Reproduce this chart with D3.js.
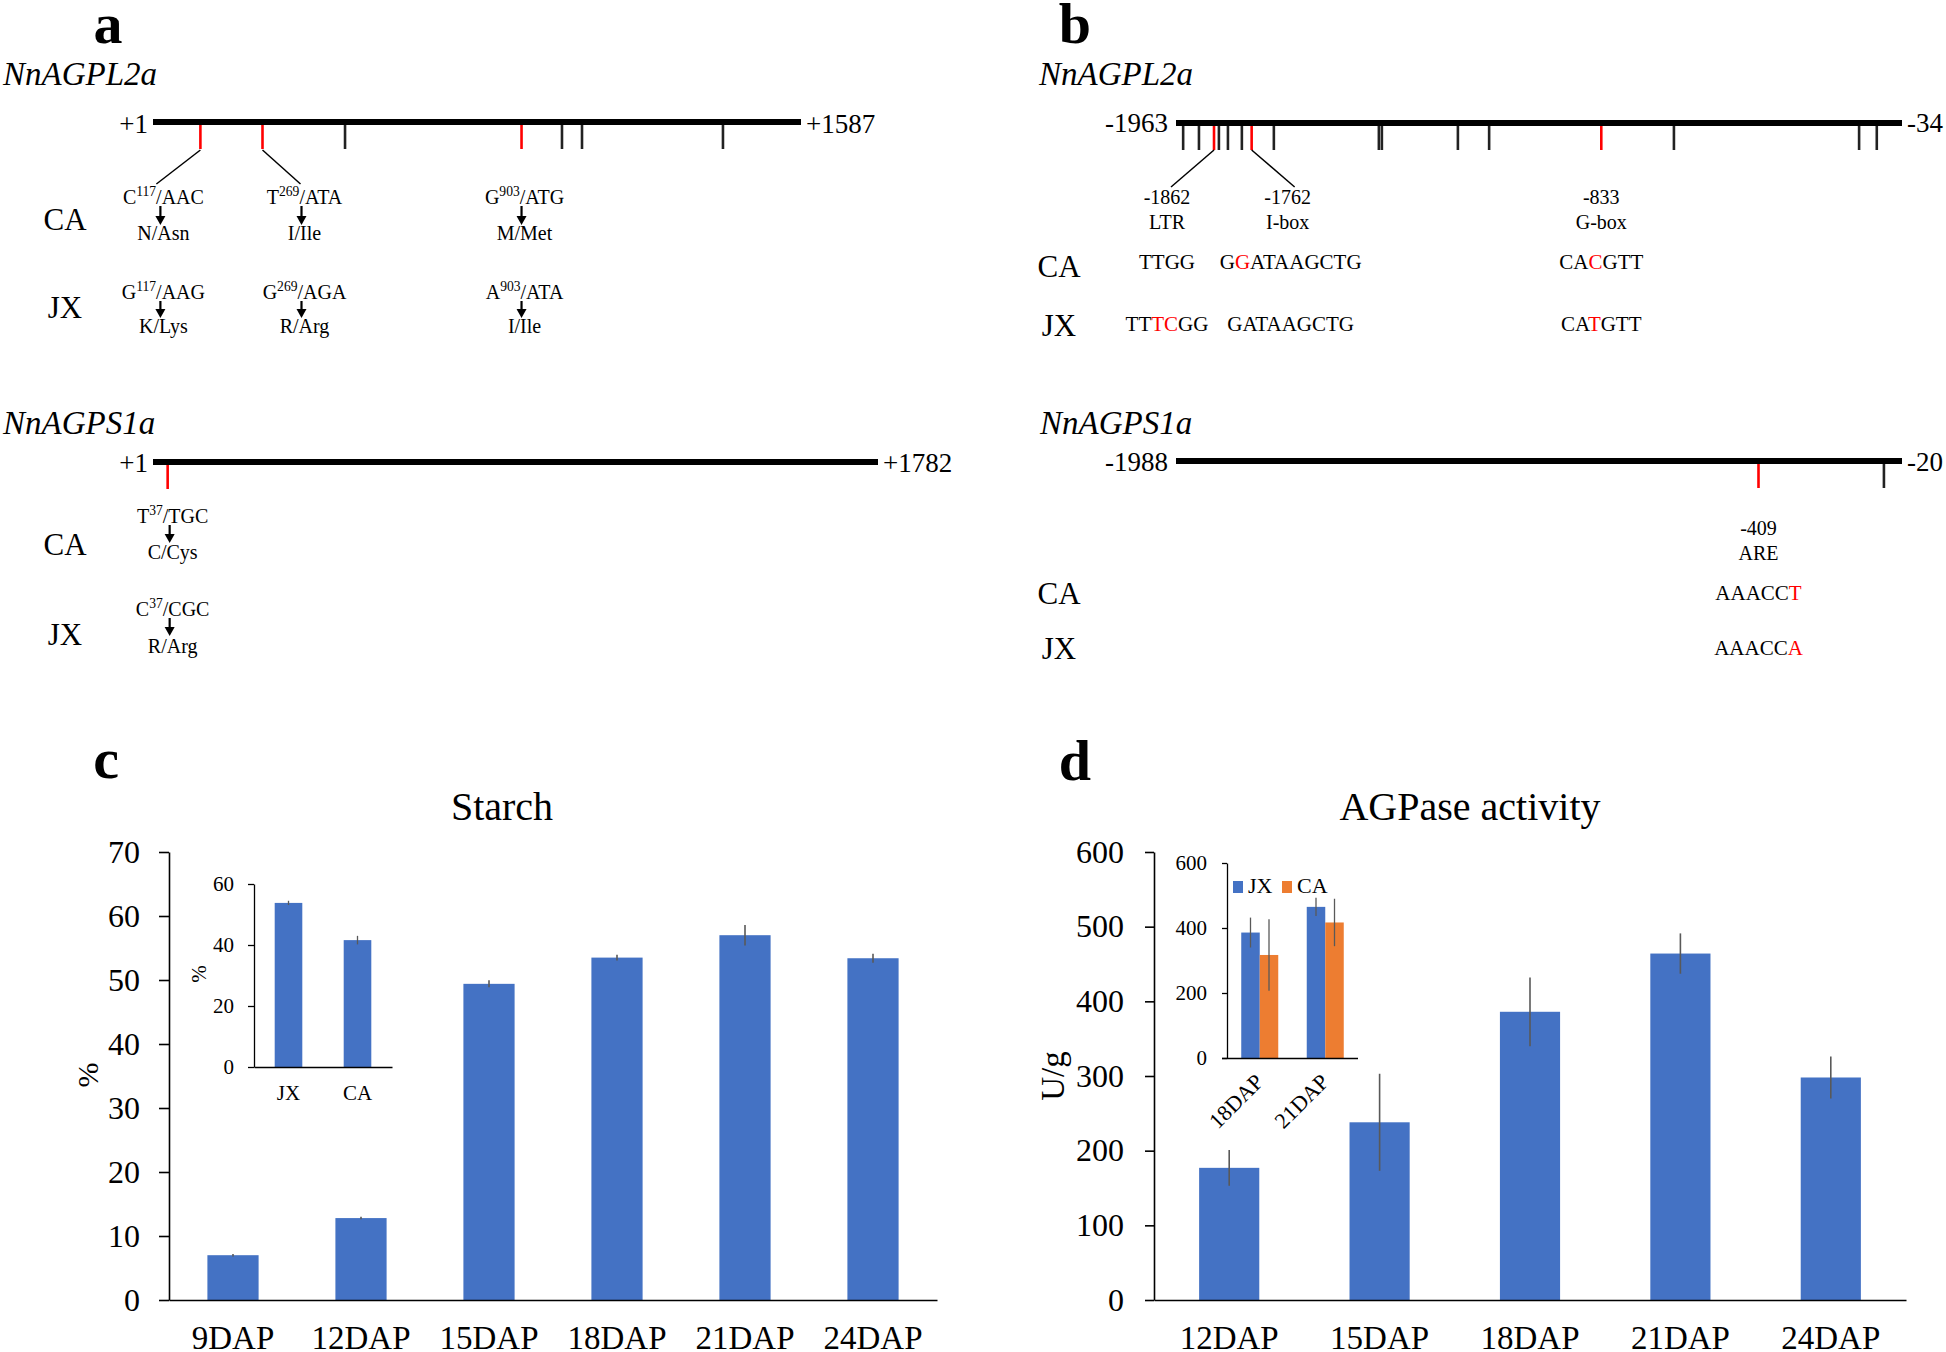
<!DOCTYPE html>
<html><head><meta charset="utf-8">
<script src="https://cdn.jsdelivr.net/npm/d3@7"></script>
<style>body{margin:0;background:#fff}</style>
</head><body>
<svg id="fig" width="1946" height="1352"></svg>
<script>
// ================= DATA =================
// panel c: starch content (%)
const starchCats = ["9DAP","12DAP","15DAP","18DAP","21DAP","24DAP"];
const starchVals = [7.0, 12.8, 49.4, 53.5, 57.0, 53.4];
const starchErr  = [0.2, 0.2, 0.55, 0.45, 1.6, 0.7];
const starchTicks = [0,10,20,30,40,50,60,70];
const starchInsetCats = ["JX","CA"];
const starchInsetVals = [53.8, 41.6];
const starchInsetErr  = [0.7, 1.4];
const starchInsetTicks = [0,20,40,60];

// panel d: AGPase activity (U/g)
const agpCats = ["12DAP","15DAP","18DAP","21DAP","24DAP"];
const agpVals = [177, 238, 386, 464, 298];
const agpErr  = [24, 65, 46, 27, 28];
const agpTicks = [0,100,200,300,400,500,600];
const agpInsetCats = ["18DAP","21DAP"];
const agpInsetSeries = ["JX","CA"];
const agpInsetJX = [386, 465];
const agpInsetCA = [317, 417];
const agpInsetErrJX = [46, 28];
const agpInsetErrCA = [110, 73];
const agpInsetTicks = [0,200,400,600];

// panel a: coding sequences
const cdsL2Range = [1, 1587];
const cdsL2Snps  = [117, 269, 903];
const cdsL2Other = [471, 1002, 1051, 1396];
const cdsL2CA    = [["C","117","/AAC"],["T","269","/ATA"],["G","903","/ATG"]];
const cdsL2CAaa  = ["N/Asn","I/Ile","M/Met"];
const cdsL2JX    = [["G","117","/AAG"],["G","269","/AGA"],["A","903","/ATA"]];
const cdsL2JXaa  = ["K/Lys","R/Arg","I/Ile"];
const cdsS1Range = [1, 1782];
const cdsS1Snps  = [37];
const cdsS1Other = [];
const cdsS1CA    = [["T","37","/TGC"]];
const cdsS1CAaa  = ["C/Cys"];
const cdsS1JX    = [["C","37","/CGC"]];
const cdsS1JXaa  = ["R/Arg"];

// panel b: promoters
const proL2Range = [-1963, -34];
const proL2Snps  = [-1862, -1762, -833];
const proL2Elements = ["LTR","I-box","G-box"];
const proL2Other = [-1944,-1902,-1849,-1825,-1788,-1703,-1424,-1416,-1214,-1131,-640,-148,-101];
const proL2CA    = ["TTGG","G[G]ATAAGCTG","CA[C]GTT"];
const proL2JX    = ["TT[TC]GG","GATAAGCTG","CA[T]GTT"];
const proS1Range = [-1988, -20];
const proS1Snps  = [-409];
const proS1Elements = ["ARE"];
const proS1Other = [-69];
const proS1CA    = ["AAACC[T]"];
const proS1JX    = ["AAACC[A]"];

// ================= DRAWING =================
const svg = d3.select('#fig');
svg.append('rect').attr('width',1946).attr('height',1352).attr('fill','#fff');
const FONT = "'Liberation Serif','Times New Roman',Times,serif";
const RED = '#ff0000', BLUE = '#4472c4', ORANGE = '#ed7d31', ERR = '#595959';

function T(g, x, y, s, size, o={}) {
  const t = g.append('text').attr('x',x).attr('y',y)
    .attr('font-family',FONT).attr('font-size',size)
    .attr('fill', o.fill||'#000').attr('text-anchor', o.anchor||'start');
  if (o.weight) t.attr('font-weight', o.weight);
  if (o.style) t.attr('font-style', o.style);
  if (s != null) t.text(s);
  return t;
}
function seqText(g, x, y, s, size) {
  const t = T(g, x, y, null, size, {anchor:'middle'});
  s.split(/(\[[^\]]*\])/).filter(p=>p).forEach(p=>{
    if (p[0]==='[') t.append('tspan').attr('fill',RED).text(p.slice(1,-1));
    else t.append('tspan').text(p);
  });
}
function mutText(g, x, y, parts, size) {
  const t = T(g, x, y, null, size, {anchor:'middle'});
  t.append('tspan').text(parts[0]);
  t.append('tspan').attr('font-size', size*0.68).attr('dy', -size*0.4).text(parts[1]);
  t.append('tspan').attr('dy', size*0.4).text(parts[2]);
}
function arrow(g, x, y1, y2) {
  g.append('line').attr('x1',x).attr('x2',x).attr('y1',y1).attr('y2',y2-7)
    .attr('stroke','#000').attr('stroke-width',2.2);
  g.append('path').attr('d',`M${x-5},${y2-9}L${x+5},${y2-9}L${x},${y2}Z`).attr('fill','#000');
}
function fmtPos(v){ return v > 0 ? '+' + v : String(v); }
function geneBar(g, o) {
  const sx = d3.scaleLinear().domain(o.domain).range([o.x0, o.x1]);
  g.append('line').attr('x1',o.x0).attr('x2',o.x1).attr('y1',o.y).attr('y2',o.y)
    .attr('stroke','#000').attr('stroke-width',6);
  T(g, o.x0-o.gapL, o.labelY, fmtPos(o.domain[0]), 27, {anchor:'end'});
  T(g, o.x1+5, o.labelY, fmtPos(o.domain[1]), 27);
  o.others.forEach(v => g.append('line').attr('x1',sx(v)).attr('x2',sx(v))
    .attr('y1',o.y+3).attr('y2',o.y+27).attr('stroke','#222').attr('stroke-width',2.6));
  o.snps.forEach(v => g.append('line').attr('x1',sx(v)).attr('x2',sx(v))
    .attr('y1',o.y+3).attr('y2',o.y+27).attr('stroke',RED).attr('stroke-width',2.6));
  return sx;
}
function lead(g, x1, y1, x2, y2){
  g.append('line').attr('x1',x1).attr('y1',y1).attr('x2',x2).attr('y2',y2)
    .attr('stroke','#000').attr('stroke-width',1.5);
}

// ----- panel letters -----
T(svg, 108, 43, 'a', 58, {anchor:'middle', weight:'bold'});
T(svg, 1075, 43, 'b', 58, {anchor:'middle', weight:'bold'});
T(svg, 106, 778, 'c', 58, {anchor:'middle', weight:'bold'});
T(svg, 1075, 780, 'd', 58, {anchor:'middle', weight:'bold'});

// ----- panel a -----
const ga = svg.append('g');
T(ga, 3, 85, 'NnAGPL2a', 33, {style:'italic'});
const sa1 = geneBar(ga, {domain:cdsL2Range, x0:153, x1:801, y:122, labelY:133, gapL:5, snps:cdsL2Snps, others:cdsL2Other});
const aTextDx = [-37, 42, 3], aLeadDx = [-44, 38, 0];
cdsL2Snps.forEach((v,i)=>{
  const px = sa1(v), tx = px + aTextDx[i];
  if (aLeadDx[i]) lead(ga, px, 150, px + aLeadDx[i], 184);
  mutText(ga, tx, 204, cdsL2CA[i], 20);
  arrow(ga, tx-3, 206, 225);
  T(ga, tx, 240, cdsL2CAaa[i], 20, {anchor:'middle'});
  mutText(ga, tx, 299, cdsL2JX[i], 20);
  arrow(ga, tx-3, 301, 318);
  T(ga, tx, 333, cdsL2JXaa[i], 20, {anchor:'middle'});
});
T(ga, 65, 230, 'CA', 31, {anchor:'middle'});
T(ga, 65, 318, 'JX', 31, {anchor:'middle'});

T(ga, 3, 434, 'NnAGPS1a', 33, {style:'italic'});
const sa2 = geneBar(ga, {domain:cdsS1Range, x0:153, x1:878, y:462, labelY:472, gapL:5, snps:cdsS1Snps, others:cdsS1Other});
cdsS1Snps.forEach((v,i)=>{
  const tx = sa2(v) + 5;
  mutText(ga, tx, 523, cdsS1CA[i], 20);
  arrow(ga, tx-3, 525, 543);
  T(ga, tx, 559, cdsS1CAaa[i], 20, {anchor:'middle'});
  mutText(ga, tx, 616, cdsS1JX[i], 20);
  arrow(ga, tx-3, 618, 636);
  T(ga, tx, 653, cdsS1JXaa[i], 20, {anchor:'middle'});
});
T(ga, 65, 555, 'CA', 31, {anchor:'middle'});
T(ga, 65, 645, 'JX', 31, {anchor:'middle'});

// ----- panel b -----
const gb = svg.append('g');
T(gb, 1039, 85, 'NnAGPL2a', 33, {style:'italic'});
const sb1 = geneBar(gb, {domain:proL2Range, x0:1176, x1:1902, y:123, labelY:132, gapL:8, snps:proL2Snps, others:proL2Other});
const bTextDx = [-47, 36, 0], bLeadDx = [-43, 43, 0];
proL2Snps.forEach((v,i)=>{
  const px = sb1(v), tx = px + bTextDx[i];
  if (bLeadDx[i]) lead(gb, px, 150, px + bLeadDx[i], 187);
  T(gb, tx, 204, String(v), 20, {anchor:'middle'});
  T(gb, tx, 229, proL2Elements[i], 20, {anchor:'middle'});
  seqText(gb, tx + (i===1?3:0), 269, proL2CA[i], 21);
  seqText(gb, tx + (i===1?3:0), 331, proL2JX[i], 21);
});
T(gb, 1059, 277, 'CA', 31, {anchor:'middle'});
T(gb, 1059, 336, 'JX', 31, {anchor:'middle'});

T(gb, 1040, 434, 'NnAGPS1a', 33, {style:'italic'});
const sb2 = geneBar(gb, {domain:proS1Range, x0:1176, x1:1902, y:461, labelY:471, gapL:8, snps:proS1Snps, others:proS1Other});
proS1Snps.forEach((v,i)=>{
  const tx = sb2(v);
  T(gb, tx, 535, String(v), 20, {anchor:'middle'});
  T(gb, tx, 560, proS1Elements[i], 20, {anchor:'middle'});
  seqText(gb, tx, 600, proS1CA[i], 21);
  seqText(gb, tx, 655, proS1JX[i], 21);
});
T(gb, 1059, 604, 'CA', 31, {anchor:'middle'});
T(gb, 1059, 659, 'JX', 31, {anchor:'middle'});

// ----- axis helper -----
function styleAxis(ax, size, sw){
  ax.selectAll('text').attr('font-family',FONT).attr('font-size',size).attr('fill','#000');
  ax.selectAll('path,line').attr('stroke','#000').attr('stroke-width',sw);
}
function errBars(g, xs, ys, vals, errs, w){
  g.selectAll(null).data(vals).join('line')
    .attr('x1',(d,i)=>xs(i)).attr('x2',(d,i)=>xs(i))
    .attr('y1',(d,i)=>ys(d-errs[i])).attr('y2',(d,i)=>ys(d+errs[i]))
    .attr('stroke',ERR).attr('stroke-width',w);
}

// ----- panel c -----
const gc = svg.append('g');
const xC = d3.scaleBand().domain(starchCats).range([169,937]).paddingInner(0.6).paddingOuter(0.3);
const yC = d3.scaleLinear().domain([0,70]).range([1300,852]);
gc.selectAll('rect.bar').data(starchVals).join('rect').attr('class','bar')
  .attr('x',(d,i)=>xC(starchCats[i])).attr('width',xC.bandwidth())
  .attr('y',d=>yC(d)).attr('height',d=>yC(0)-yC(d)).attr('fill',BLUE);
errBars(gc, i=>xC(starchCats[i])+xC.bandwidth()/2, yC, starchVals, starchErr, 1.6);
const axCy = gc.append('g').attr('transform','translate(169,0)')
  .call(d3.axisLeft(yC).tickValues(starchTicks).tickSize(10).tickSizeOuter(0).tickPadding(19));
styleAxis(axCy, 32, 1.6);
const axCx = gc.append('g').attr('transform','translate(0,1300)')
  .call(d3.axisBottom(xC).tickSize(0).tickSizeOuter(0).tickPadding(26));
styleAxis(axCx, 33, 1.6);
T(gc, 502, 820, 'Starch', 40, {anchor:'middle'});
T(gc, 0, 0, '%', 30, {anchor:'middle'}).attr('transform','translate(98,1075) rotate(-90)');

// inset c
const xCi = d3.scaleBand().domain(starchInsetCats).range([254,392]).paddingInner(0.6).paddingOuter(0.3);
const yCi = d3.scaleLinear().domain([0,60]).range([1067,884]);
gc.selectAll('rect.ibar').data(starchInsetVals).join('rect').attr('class','ibar')
  .attr('x',(d,i)=>xCi(starchInsetCats[i])).attr('width',xCi.bandwidth())
  .attr('y',d=>yCi(d)).attr('height',d=>yCi(0)-yCi(d)).attr('fill',BLUE);
errBars(gc, i=>xCi(starchInsetCats[i])+xCi.bandwidth()/2, yCi, starchInsetVals, starchInsetErr, 1.3);
const axCiy = gc.append('g').attr('transform','translate(254,0)')
  .call(d3.axisLeft(yCi).tickValues(starchInsetTicks).tickSize(6).tickSizeOuter(0).tickPadding(14));
styleAxis(axCiy, 21, 1.3);
const axCix = gc.append('g').attr('transform','translate(0,1067)')
  .call(d3.axisBottom(xCi).tickSize(0).tickSizeOuter(0).tickPadding(18));
styleAxis(axCix, 21, 1.3);
T(gc, 0, 0, '%', 21, {anchor:'middle'}).attr('transform','translate(206,974) rotate(-90)');

// ----- panel d -----
const gd = svg.append('g');
const xD = d3.scaleBand().domain(agpCats).range([1154,1906]).paddingInner(0.6).paddingOuter(0.3);
const yD = d3.scaleLinear().domain([0,600]).range([1300,852]);
gd.selectAll('rect.bar').data(agpVals).join('rect').attr('class','bar')
  .attr('x',(d,i)=>xD(agpCats[i])).attr('width',xD.bandwidth())
  .attr('y',d=>yD(d)).attr('height',d=>yD(0)-yD(d)).attr('fill',BLUE);
errBars(gd, i=>xD(agpCats[i])+xD.bandwidth()/2, yD, agpVals, agpErr, 1.6);
const axDy = gd.append('g').attr('transform','translate(1154,0)')
  .call(d3.axisLeft(yD).tickValues(agpTicks).tickSize(9).tickSizeOuter(0).tickPadding(21));
styleAxis(axDy, 32, 1.6);
const axDx = gd.append('g').attr('transform','translate(0,1300)')
  .call(d3.axisBottom(xD).tickSize(0).tickSizeOuter(0).tickPadding(26));
styleAxis(axDx, 33, 1.6);
T(gd, 1470, 820, 'AGPase activity', 40, {anchor:'middle'});
T(gd, 0, 0, 'U/g', 33, {anchor:'middle'}).attr('transform','translate(1064,1076) rotate(-90)');

// inset d
const x0D = d3.scaleBand().domain(agpInsetCats).range([1227,1358]).paddingInner(0.435).paddingOuter(0.2175);
const x1D = d3.scaleBand().domain(agpInsetSeries).range([0, x0D.bandwidth()]);
const yDi = d3.scaleLinear().domain([0,600]).range([1058,863]);
const insetSeries = [
  {name:'JX', vals:agpInsetJX, errs:agpInsetErrJX, color:BLUE},
  {name:'CA', vals:agpInsetCA, errs:agpInsetErrCA, color:ORANGE}
];
insetSeries.forEach(s=>{
  gd.selectAll(null).data(s.vals).join('rect')
    .attr('x',(d,i)=>x0D(agpInsetCats[i]) + x1D(s.name)).attr('width',x1D.bandwidth())
    .attr('y',d=>yDi(d)).attr('height',d=>yDi(0)-yDi(d)).attr('fill',s.color);
});
insetSeries.forEach(s=>{
  errBars(gd, i=>x0D(agpInsetCats[i]) + x1D(s.name) + x1D.bandwidth()/2, yDi, s.vals, s.errs, 1.3);
});
const axDiy = gd.append('g').attr('transform','translate(1227,0)')
  .call(d3.axisLeft(yDi).tickValues(agpInsetTicks).tickSize(5).tickSizeOuter(0).tickPadding(15));
styleAxis(axDiy, 21, 1.3);
const axDix = gd.append('g').attr('transform','translate(0,1058)')
  .call(d3.axisBottom(x0D).tickSize(0).tickSizeOuter(0).tickFormat(''));
styleAxis(axDix, 21, 1.3);
axDix.select('.domain').attr('d','M1222,0.5H1358');
agpInsetCats.forEach(c=>{
  const cx = x0D(c) + x0D.bandwidth()/2;
  T(gd, 0, 0, c, 22, {anchor:'end'}).attr('transform',`translate(${cx+5},1083) rotate(-45)`);
});
// legend
const legX = [1233, 1282];
insetSeries.forEach((s,i)=>{
  gd.append('rect').attr('x',legX[i]).attr('y',881).attr('width',10).attr('height',12).attr('fill',s.color);
  T(gd, legX[i]+15, 893, s.name, 22);
});
</script>
</body></html>
